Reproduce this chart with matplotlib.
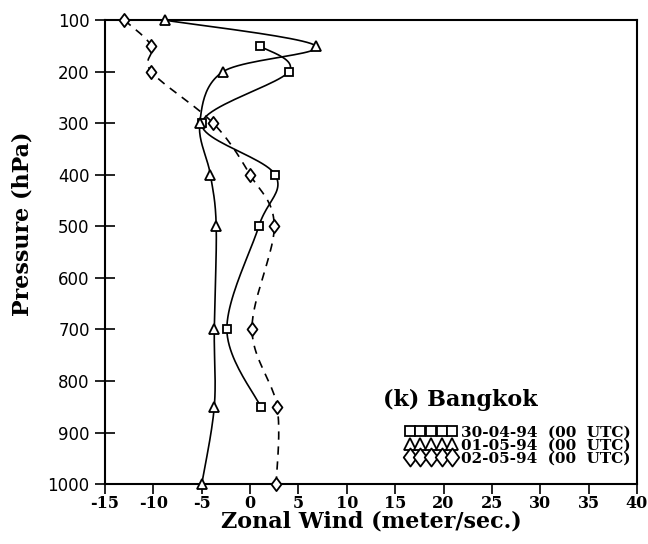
import numpy as np
import matplotlib
matplotlib.use("Agg")
import matplotlib.pyplot as plt
from matplotlib.lines import Line2D
from matplotlib.path import Path

# ---- data ----
p_sq = [150, 200, 300, 400, 500, 700, 850]
u_sq = [1.0, 4.0, -5.0, 2.6, 0.9, -2.4, 1.1]

p_tri = [100, 150, 200, 300, 400, 500, 700, 850, 1000]
u_tri = [-8.8, 6.8, -2.8, -5.2, -4.1, -3.5, -3.7, -3.7, -5.0]

p_dia = [100, 150, 200, 300, 400, 500, 700, 850, 1000]
u_dia = [-13.0, -10.2, -10.2, -3.8, 0.0, 2.5, 0.2, 2.8, 2.7]

labels = ["30-04-94  (00  UTC)", "01-05-94  (00  UTC)", "02-05-94  (00  UTC)"]
xticks = [-15, -10, -5, 0, 5, 10, 15, 20, 25, 30, 35, 40]
yticks = [100, 200, 300, 400, 500, 600, 700, 800, 900, 1000]


def smooth(x, y, n=24):
    """Catmull-Rom curve through the given points (drawing only)."""
    P = np.column_stack([x, y]).astype(float)
    P = np.vstack([P[0], P, P[-1]])
    out = []
    t = np.linspace(0, 1, n)
    for i in range(1, len(P) - 2):
        p0, p1, p2, p3 = P[i - 1], P[i], P[i + 1], P[i + 2]
        tt = t[:, None]
        seg = 0.5 * ((2 * p1) + (-p0 + p2) * tt + (2 * p0 - 5 * p1 + 4 * p2 - p3) * tt ** 2
                     + (-p0 + 3 * p1 - 3 * p2 + p3) * tt ** 3)
        out.append(seg if i == 1 else seg[1:])
    s = np.vstack(out)
    return s[:, 0], s[:, 1]


diamond = Path([(0, 1), (0.75, 0), (0, -1), (-0.75, 0), (0, 1)],
               [Path.MOVETO, Path.LINETO, Path.LINETO, Path.LINETO, Path.CLOSEPOLY])

fig = plt.figure(figsize=(6.48, 5.44), dpi=100)
ax = fig.add_axes([0.162, 0.110, 0.821, 0.853])

serif = ["DejaVu Serif"]

lw = 1.2
xs, ys = smooth(u_sq, p_sq)
ax.plot(xs, ys, color="black", lw=lw)
xs, ys = smooth(u_tri, p_tri)
ax.plot(xs, ys, color="black", lw=lw)
xs, ys = smooth(u_dia, p_dia)
ax.plot(xs, ys, color="black", lw=lw, linestyle=(0, (5, 4)))

mk = dict(linestyle="none", mfc="white", mec="black", mew=1.3, zorder=3, clip_on=False)
ax.plot(u_sq, p_sq, marker="s", ms=6, **mk)
ax.plot(u_tri, p_tri, marker="^", ms=6.5, **mk)
ax.plot(u_dia, p_dia, marker=diamond, ms=9.5, **mk)

ax.set_xlim(-15, 40)
ax.set_ylim(1000, 100)
ax.set_xticks(xticks)
ax.set_yticks(yticks)
ax.set_xticklabels([str(v) for v in xticks], family=serif, fontweight="bold", fontsize=11.5)
ax.set_yticklabels([str(v) for v in yticks], family="DejaVu Sans", fontsize=12)
ax.tick_params(axis="y", direction="inout", length=14, width=1.2, pad=4)
ax.tick_params(axis="x", direction="out", length=7, width=1.2, pad=1)
for s in ax.spines.values():
    s.set_linewidth(1.5)

ax.set_xlabel("Zonal Wind (meter/sec.)", family=serif, fontweight="bold", fontsize=16, labelpad=-1)
ax.set_ylabel("Pressure (hPa)", family=serif, fontweight="bold", fontsize=16)
ax.yaxis.set_label_coords(-0.135, 0.561)

ax.text(0.523, 0.182, "(k) Bangkok", transform=ax.transAxes, family=serif,
        fontweight="bold", fontsize=16, va="center")

hk = dict(linestyle="none", mfc="white", mec="black", mew=1.3)
handles = [
    Line2D([], [], marker="s", ms=7.5, **hk),
    Line2D([], [], marker="^", ms=8, **hk),
    Line2D([], [], marker=diamond, ms=13, **hk),
]
leg = ax.legend(handles, labels, loc="lower right", bbox_to_anchor=(1.005, 0.02),
                numpoints=5, handlelength=3.4, handletextpad=0.25, labelspacing=-0.05,
                frameon=False, prop={"family": serif, "weight": "bold", "size": 11},
                borderaxespad=0.2)

fig.savefig("out.png", dpi=100)
